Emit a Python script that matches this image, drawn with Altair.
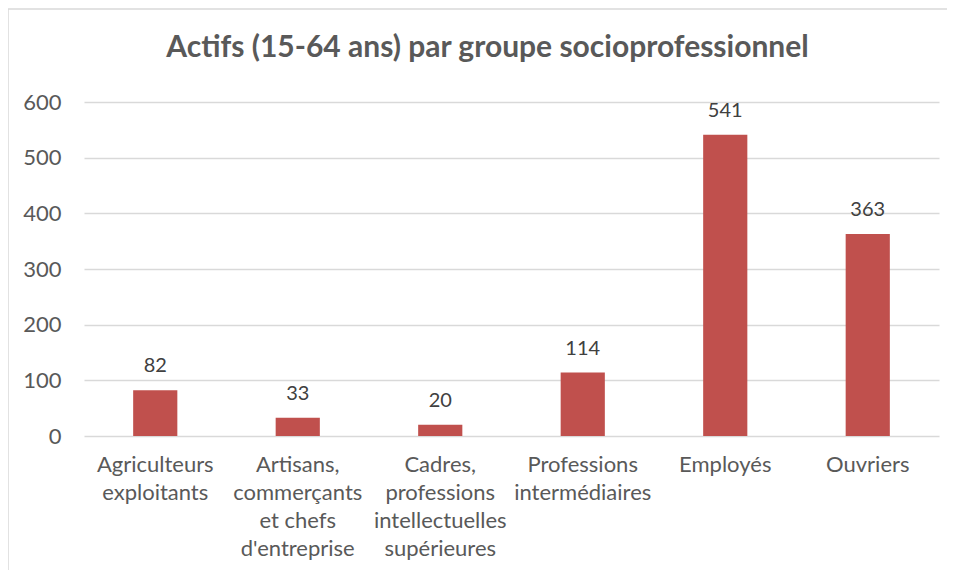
import altair as alt
import pandas as pd

categories = [
    "Agriculteurs\nexploitants",
    "Artisans,\ncommerçants\net chefs\nd'entreprise",
    "Cadres,\nprofessions\nintellectuelles\nsupérieures",
    "Professions\nintermédiaires",
    "Employés",
    "Ouvriers",
]
values = [82, 33, 20, 114, 541, 363]
y_ticks = [0, 100, 200, 300, 400, 500, 600]

df = pd.DataFrame({"cat": categories, "val": values})

FONT = "Lato"
W, H = 855, 334

x_enc = alt.X(
    "cat:N", sort=categories, title=None,
    scale=alt.Scale(paddingInner=0.69, paddingOuter=0.345),
    axis=alt.Axis(
        labelExpr="split(datum.label, '\\n')",
        labelAngle=0, labelFontSize=22, labelColor="#595959", labelFont=FONT,
        labelLineHeight=28, labelPadding=18, labelBaseline="top",
        ticks=False, domain=False, grid=False,
    ),
)
y_enc = alt.Y(
    "val:Q", title=None,
    scale=alt.Scale(domain=[0, 600], nice=False),
    axis=alt.Axis(
        values=y_ticks, labelFontSize=22, labelColor="#595959", labelFont=FONT,
        labelPadding=23, ticks=False, domain=False,
        grid=True, gridColor="#d9d9d9", gridWidth=1.3,
    ),
)

bars = alt.Chart(df).mark_bar(color="#C0504D").encode(x=x_enc, y=y_enc)
labels = alt.Chart(df).mark_text(
    baseline="alphabetic", dy=-18, fontSize=20, font=FONT, color="#404040"
).encode(x=alt.X("cat:N", sort=categories), y="val:Q", text="val:Q")

frame = alt.Chart(pd.DataFrame({"k": [0]})).mark_rect(
    fill=None, stroke="#d9d9d9", strokeWidth=1.5, clip=False
).encode(
    x=alt.value(-76), x2=alt.value(W + 60), y=alt.value(-93), y2=alt.value(H + 200)
)

chart = alt.layer(frame, bars, labels).properties(
    width=W, height=H,
    autosize=alt.AutoSizeParams(type="none"),
    padding={"left": 76, "top": 94, "right": 8, "bottom": 134},
    title=alt.TitleParams(
        "Actifs (15-64 ans) par groupe socioprofessionnel",
        font=FONT, fontSize=30, fontWeight="bold", color="#595959",
        anchor="middle", dx=-24, offset=-55,
    ),
).configure_view(stroke=None)

chart.save("out.html", embed_options={"renderer": "svg", "actions": False})
